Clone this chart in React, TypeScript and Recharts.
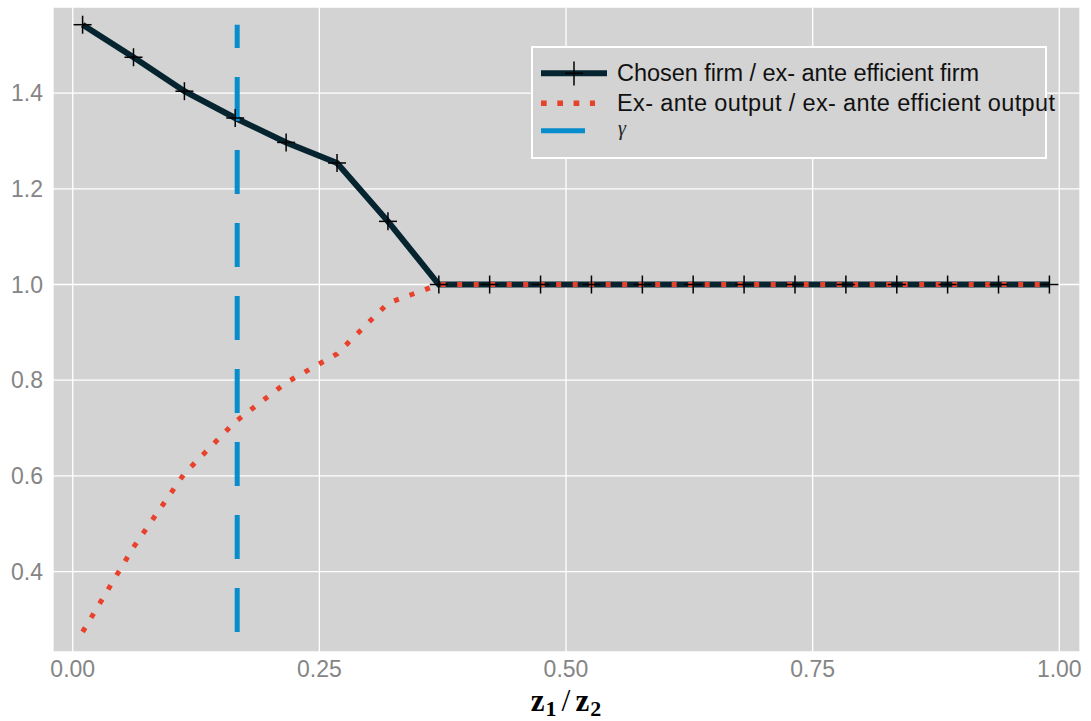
import { LineChart, Line, XAxis, YAxis, CartesianGrid, Legend } from 'recharts'

const zRatio = [0.01, 0.0616, 0.1132, 0.1647, 0.2163, 0.2679, 0.3195, 0.3711, 0.4226, 0.4742, 0.5258, 0.5774, 0.6289, 0.6805, 0.7321, 0.7837, 0.8353, 0.8868, 0.9384, 0.99]
const chosenFirm = [1.543, 1.475, 1.404, 1.348, 1.297, 1.254, 1.132, 1.0, 1.0, 1.0, 1.0, 1.0, 1.0, 1.0, 1.0, 1.0, 1.0, 1.0, 1.0, 1.0]
const exAnteOutput = [0.274, 0.451, 0.605, 0.713, 0.795, 0.855, 0.961, 1.0, 1.0, 1.0, 1.0, 1.0, 1.0, 1.0, 1.0, 1.0, 1.0, 1.0, 1.0, 1.0]
const gammaX = 0.1667
const gammaSpan = [0.274, 1.543]
const xTicks = [0, 0.25, 0.5, 0.75, 1.0]
const yTicks = [0.4, 0.6, 0.8, 1.0, 1.2, 1.4]

const firmData = zRatio.map((x, i) => ({ x, y: chosenFirm[i] }))
const outputData = zRatio.map((x, i) => ({ x, y: exAnteOutput[i] }))
const gammaData = gammaSpan.map((y) => ({ x: gammaX, y }))

const DARK = '#062430'
const RED = '#e8412c'
const BLUE = '#078ccc'
const BG = '#d3d3d3'
const SANS = '"Liberation Sans", Arial, sans-serif'

const Plus = (props: any) => {
  const { cx, cy, index } = props
  return (
    <g key={`plus-${index}`}>
      <line x1={cx - 9} x2={cx + 9} y1={cy} y2={cy} stroke="#000" strokeWidth={1.5} />
      <line x1={cx} x2={cx} y1={cy - 9} y2={cy + 9} stroke="#000" strokeWidth={1.5} />
    </g>
  )
}

const XTick = (props: any) => (
  <text x={props.x} y={props.y + 25} textAnchor="middle" fill="#858585" fontSize={23} fontFamily={SANS}>
    {Number(props.payload.value).toFixed(2)}
  </text>
)

const YTick = (props: any) => (
  <text x={props.x - 10} y={props.y + 8} textAnchor="end" fill="#858585" fontSize={23} fontFamily={SANS}>
    {Number(props.payload.value).toFixed(1)}
  </text>
)

const LegendBox = () => (
  <svg width={540} height={114} style={{ overflow: 'visible', display: 'block' }}>
    <rect x={1} y={1} width={514} height={111} fill={BG} stroke="#fff" strokeWidth={2} />
    <line x1={10} x2={76} y1={27.3} y2={27.3} stroke={DARK} strokeWidth={6} />
    <line x1={43} x2={43} y1={15.5} y2={39.5} stroke="#000" strokeWidth={1.5} />
    <line x1={34} x2={52} y1={27.3} y2={27.3} stroke="#000" strokeWidth={1.5} />
    <text x={86} y={35} fontSize={23.5} fontFamily={SANS} fill="#111" textLength={362} lengthAdjust="spacing">
      Chosen firm / ex- ante efficient firm
    </text>
    <line x1={10} x2={64} y1={57.3} y2={57.3} stroke={RED} strokeWidth={5.5} strokeDasharray="5.7 10.6" />
    <text x={86} y={65} fontSize={23.5} fontFamily={SANS} fill="#111" textLength={438} lengthAdjust="spacing">
      Ex- ante output / ex- ante efficient output
    </text>
    <line x1={10} x2={54} y1={84.7} y2={84.7} stroke={BLUE} strokeWidth={5} />
    <text x={87} y={89} fontSize={20} fontFamily='"Liberation Serif", serif' fontStyle="italic" fill="#222">γ</text>
  </svg>
)

export default function App() {
  return (
    <div style={{ position: 'absolute', left: 0, top: 0, width: 1091, height: 721, background: '#fff' }}>
      <LineChart width={1091} height={721} margin={{ top: 7, right: 11, bottom: 0, left: 0 }}>
        <CartesianGrid fill={BG} stroke="#fff" strokeWidth={1.3} />
        <XAxis
          dataKey="x"
          type="number"
          domain={[-0.02, 1.021]}
          ticks={xTicks}
          allowDataOverflow
          height={69}
          axisLine={false}
          tickLine={false}
          tickSize={0}
          tickMargin={0}
          tick={<XTick />}
        />
        <YAxis
          dataKey="y"
          type="number"
          domain={[0.232, 1.58]}
          ticks={yTicks}
          allowDataOverflow
          width={53}
          axisLine={false}
          tickLine={false}
          tickSize={0}
          tickMargin={0}
          tick={<YTick />}
        />
        <Legend
          layout="horizontal"
          verticalAlign="middle"
          align="center"
          wrapperStyle={{ position: 'absolute', left: 531, top: 46, width: 540, height: 114 }}
          content={() => <LegendBox />}
        />
        <Line data={firmData} dataKey="y" type="linear" stroke={DARK} strokeWidth={6} dot={Plus} activeDot={false} isAnimationActive={false} />
        <Line data={outputData} dataKey="y" type="linear" stroke={RED} strokeWidth={5} strokeDasharray="5 11.5" dot={false} activeDot={false} isAnimationActive={false} />
        <Line data={gammaData} dataKey="y" type="linear" stroke={BLUE} strokeWidth={5} strokeDasharray="44 29" strokeLinecap="butt" dot={false} activeDot={false} isAnimationActive={false} />
      </LineChart>
      <svg width={1091} height={721} style={{ position: 'absolute', left: 0, top: 0, pointerEvents: 'none' }}>
        <text x={566} y={711} textAnchor="middle" fontFamily='"Liberation Serif", serif' fontWeight="bold" fontSize={31} fill="#000">
          z<tspan fontSize={22} dy={5} dx={1}>1</tspan>
          <tspan fontSize={32} fontWeight="normal" dy={-5} dx={5}>/</tspan>
          <tspan dx={5}>z</tspan>
          <tspan fontSize={22} dy={5} dx={1}>2</tspan>
        </text>
      </svg>
    </div>
  )
}
